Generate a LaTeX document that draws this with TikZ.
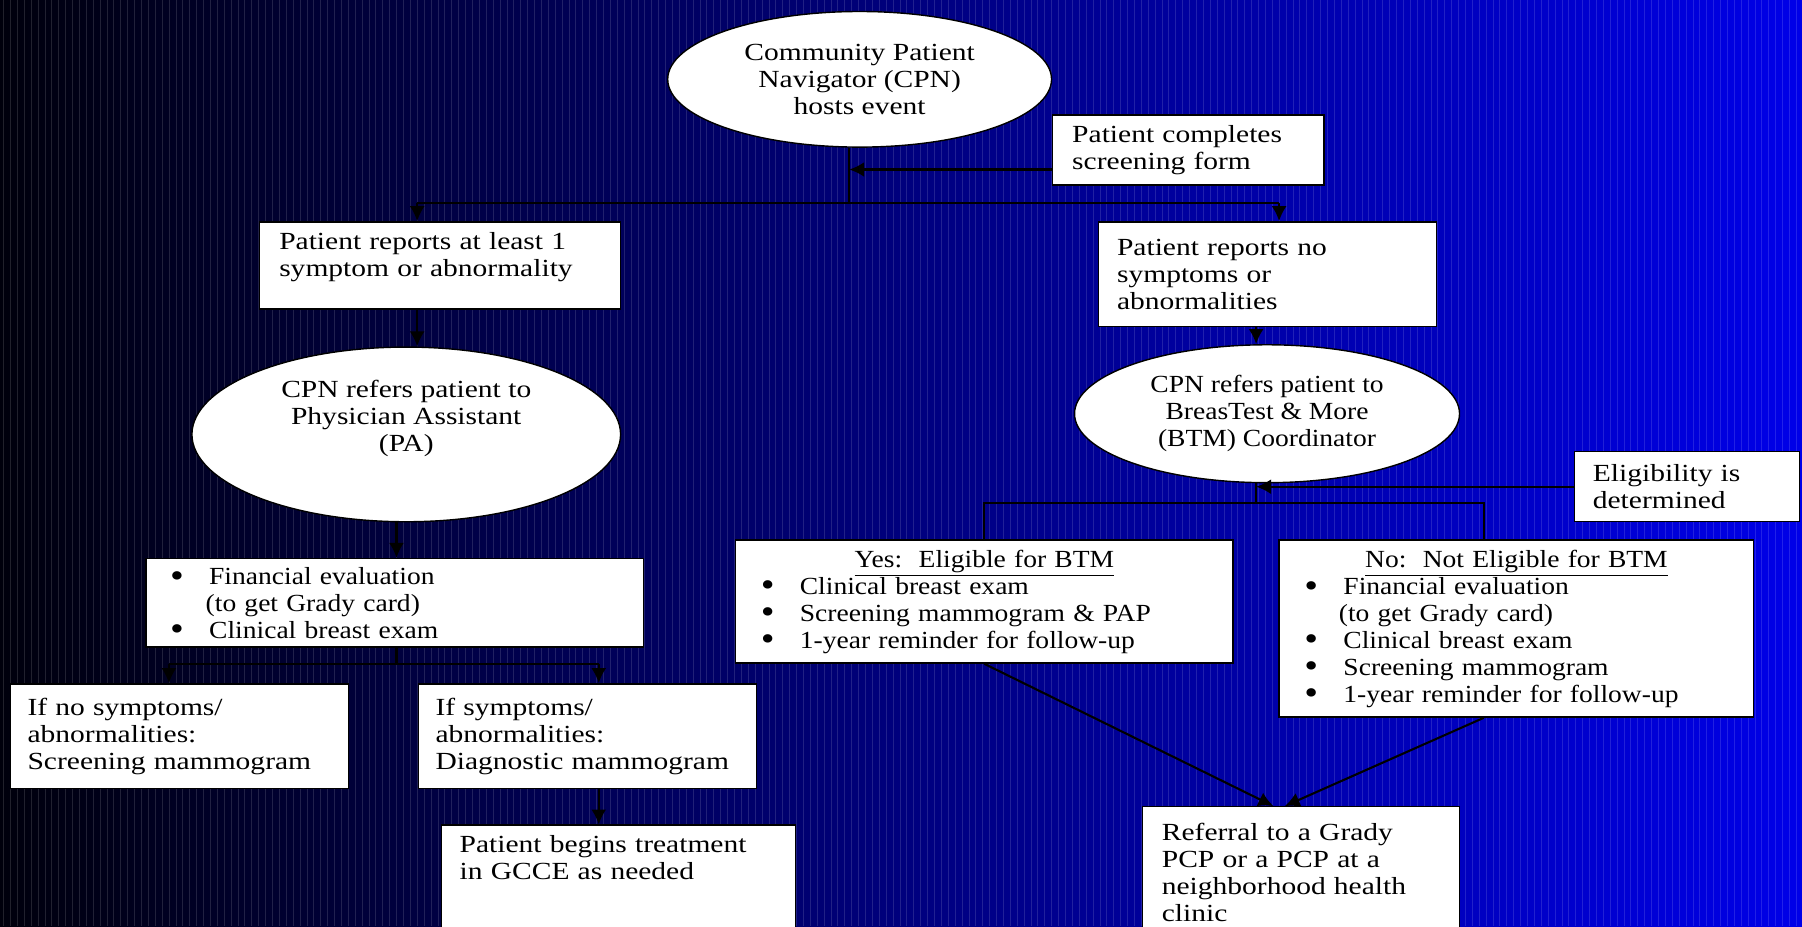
\documentclass[tikz,border=0pt]{standalone}
\usepackage{fontspec}
\setmainfont[FakeStretch=1.2]{Liberation Serif}
\newfontfamily\narrowserif[FakeStretch=1.12]{Liberation Serif}
\usetikzlibrary{shapes.geometric,arrows.meta}

\newlength{\pxlen}
\setlength{\pxlen}{0.023cm}
\newcommand{\boxfont}{\fontsize{14}{15.35}\selectfont}
\newcommand{\narrowfont}{\narrowserif\fontsize{14}{15.35}\selectfont}
\newcommand{\bigbullet}{\raisebox{-1.6pt}[0pt][0pt]{\fontsize{20}{15}\selectfont\textbullet}}
\newcommand{\bitem}[1]{\makebox[34\pxlen][l]{\bigbullet}#1}
\newcommand{\belowpad}[1]{\rule[-#1]{0pt}{#1}}

\definecolor{bgleft}{RGB}{0,0,12}
\definecolor{bgmid}{RGB}{0,0,125}
\definecolor{bgright}{RGB}{0,0,232}

\tikzset{
  box/.style={draw=black, line width=0.8pt, fill=white, rectangle, inner sep=0pt, align=left, font=\boxfont},
  oval/.style={draw=black, line width=0.8pt, fill=white, ellipse, inner sep=0pt, align=center, font=\boxfont},
  boxsize/.style 2 args={minimum width=#1*\pxlen, minimum height=#2*\pxlen},
  tw/.style={text width=#1*\pxlen},
  link/.style={line width=1.2pt, black},
  arrow/.style={link, -{Latex[length=8.5pt,width=8.5pt]}},
}

\begin{document}
\begin{tikzpicture}[x=\pxlen, y=-\pxlen]
  % background
  \useasboundingbox (0,0) rectangle (1568,806);
  \shade[left color=bgleft, right color=bgright, middle color=bgmid] (0,0) rectangle (1568,806);
  \foreach \s in {3,9,...,1565}
    \draw[white, opacity=0.13, line width=0.35pt] (\s,0) -- (\s,806);

  % top of the flow
  \node[oval, boxsize={334}{118}] (cpn) at (748,69) {Community Patient\\Navigator (CPN)\\hosts event};
  \node[box, boxsize={236}{61}, tw=202] (form) at (1034,130.5) {Patient completes\\screening form};
  \node[box, boxsize={314}{76}, tw=280] (sym) at (383,231) {Patient reports at least 1\\symptom or abnormality\belowpad{12pt}};
  \node[box, boxsize={294}{91}, tw=262] (nosym) at (1103,238.5) {Patient reports no\\symptoms or\\abnormalities};

  % left branch
  \node[oval, boxsize={373}{152}] (pa) at (353.5,378) {CPN refers patient to\\Physician Assistant\\(PA)\belowpad{21pt}};
  \node[box, boxsize={433}{77}, tw=391, font=\narrowfont] (fin) at (343.5,524.5)
    {\bitem{Financial evaluation}\\\hspace*{31\pxlen}(to get Grady card)\\\bitem{Clinical breast exam}};
  \node[box, boxsize={294}{91}, tw=264] (ifno) at (156,640.5) {If no symptoms/\\abnormalities:\\Screening mammogram};
  \node[box, boxsize={294}{91}, tw=264] (ifyes) at (511,640.5) {If symptoms/\\abnormalities:\\Diagnostic mammogram};
  \node[box, boxsize={308}{110}, tw=276] (treat) at (538,773) {Patient begins treatment\\in GCCE as needed\belowpad{35pt}};

  % right branch
  \node[oval, boxsize={335}{120}, font=\narrowfont] (btm) at (1102.5,360) {CPN refers patient to\\BreasTest \& More\\(BTM) Coordinator};
  \node[box, boxsize={196}{61}, tw=164] (elig) at (1468,423.5) {Eligibility is\\determined};
  \node[box, boxsize={433}{107}, tw=389, font=\narrowfont] (yes) at (856.5,523.5)
    {\makebox[\hsize]{\underline{Yes:\ \ Eligible for BTM}}\\\bitem{Clinical breast exam}\\\bitem{Screening mammogram \& PAP}\\\bitem{1-year reminder for follow-up}};
  \node[box, boxsize={413}{154}, tw=369, font=\narrowfont] (no) at (1319.5,547)
    {\makebox[\hsize]{\underline{No:\ \ Not Eligible for BTM}}\\\bitem{Financial evaluation}\\\hspace*{30\pxlen}(to get Grady card)\\\bitem{Clinical breast exam}\\\bitem{Screening mammogram}\\\bitem{1-year reminder for follow-up}};
  \node[box, boxsize={276}{114}, tw=242] (referral) at (1132,759) {Referral to a Grady\\PCP or a PCP at a\\neighborhood health\\clinic};

  % connectors, top
  \coordinate (topsplit) at (739,177);
  \coordinate (symtop) at (363,177);
  \coordinate (nosymtop) at (1113,177);
  \draw[link] (cpn.south -| topsplit) -- (topsplit);
  \draw[link] (symtop) -- (nosymtop);
  \draw[arrow] (symtop) -- (symtop |- sym.north);
  \draw[arrow] (nosymtop) -- (nosymtop |- nosym.north);
  \path (form.west) ++(0,17) coordinate (formout);
  \draw[arrow] (formout) -- (formout -| topsplit);

  % connectors, left
  \coordinate (finsplit) at (345,578);
  \coordinate (ifnotop) at (147,578);
  \coordinate (ifyestop) at (521,578);
  \draw[arrow] (sym.south -| symtop) -- (pa.north -| symtop);
  \draw[arrow] (pa.south -| finsplit) -- (fin.north -| finsplit);
  \draw[link] (fin.south -| finsplit) -- (finsplit);
  \draw[link] (ifnotop) -- (ifyestop);
  \draw[arrow] (ifnotop) -- (ifnotop |- ifno.north);
  \draw[arrow] (ifyestop) -- (ifyestop |- ifyes.north);
  \draw[arrow] (ifyes.south -| ifyestop) -- (treat.north -| ifyestop);

  % connectors, right
  \coordinate (btmsplit) at (1093,438);
  \coordinate (yestop) at (856,438);
  \coordinate (notop) at (1291,438);
  \draw[arrow] (nosym.south -| btmsplit) -- (btm.north -| btmsplit);
  \draw[link] (btm.south -| btmsplit) -- (btmsplit);
  \draw[link] (yestop |- yes.north) -- (yestop) -- (notop) -- (notop |- no.north);
  \draw[arrow] (elig.west) -- (elig.west -| btmsplit);
  \path (referral.north) ++(-24,0) coordinate (refin1) ++(10,0) coordinate (refin2);
  \draw[arrow] (yes.south) -- (refin1);
  \draw[arrow] (notop |- no.south) -- (refin2);
\end{tikzpicture}
\end{document}
